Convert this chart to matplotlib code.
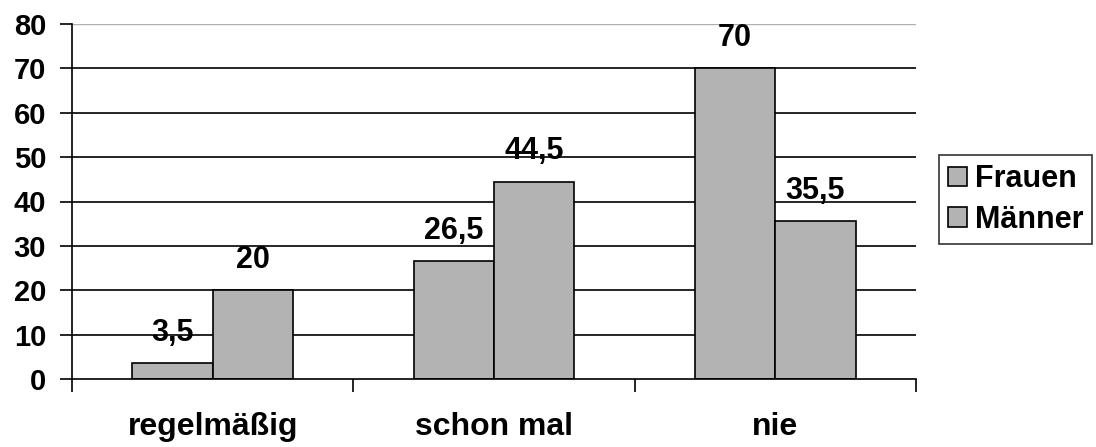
import matplotlib
matplotlib.use("Agg")
import matplotlib.pyplot as plt
import numpy as np

categories = ["regelmäßig", "schon mal", "nie"]
frauen = [3.5, 26.5, 70]
maenner = [20, 44.5, 35.5]
series_names = ["Frauen", "Männer"]
yticks = [0, 10, 20, 30, 40, 50, 60, 70, 80]

plt.rcParams["font.family"] = ["Liberation Sans", "DejaVu Sans"]
plt.rcParams["font.weight"] = "bold"

fig = plt.figure(figsize=(10.96, 4.47), dpi=100)
ax = fig.add_axes([72 / 1096, 1 - 379 / 447, (916 - 72) / 1096, (379 - 24) / 447])

x = np.arange(len(categories))
w = 0.285
bar_color = "#b3b3b3"
b1 = ax.bar(x - w / 2, frauen, w, color=bar_color, edgecolor="black", linewidth=1.2, zorder=3, label=series_names[0])
b2 = ax.bar(x + w / 2, maenner, w, color=bar_color, edgecolor="black", linewidth=1.2, zorder=3, label=series_names[1])

for bars, vals in ((b1, frauen), (b2, maenner)):
    for rect, v in zip(bars, vals):
        ax.annotate(f"{v:g}".replace(".", ","),
                    (rect.get_x() + rect.get_width() / 2, v),
                    xytext=(0, 16), textcoords="offset points",
                    ha="center", va="baseline", fontsize=22, fontweight="bold", zorder=5)

ax.set_xlim(-0.5, len(categories) - 0.5)
ax.set_ylim(0, 80)
ax.set_yticks(yticks)
ax.set_yticklabels([str(t) for t in yticks], fontsize=21, fontweight="bold")
ax.tick_params(axis="y", length=8.6, width=1.2, pad=10)

for t in yticks[1:-1]:
    ax.axhline(t, color="black", linewidth=1.2, zorder=1)
ax.axhline(80, color="#b0b0b0", linewidth=1.0, zorder=1)

ax.set_xticks(x)
ax.set_xticklabels(categories, fontsize=23, fontweight="bold")
ax.tick_params(axis="x", which="major", length=0, pad=24)
ax.set_xticks(np.arange(-0.5, len(categories)), minor=True)
ax.tick_params(axis="x", which="minor", length=9, width=1.2, direction="out")

for s in ("top", "right"):
    ax.spines[s].set_visible(False)
for s in ("left", "bottom"):
    ax.spines[s].set_linewidth(1.2)
    ax.spines[s].set_zorder(4)

leg = fig.legend(handles=[b1, b2], labels=series_names,
                 loc="upper left", bbox_to_anchor=(939 / 1096, 1 - 155 / 447),
                 prop={"weight": "bold", "size": 22},
                 frameon=True, fancybox=False, shadow=False,
                 handlelength=0.62, handleheight=0.62, handletextpad=0.25,
                 borderpad=0.3, labelspacing=0.35, borderaxespad=0)
leg.get_frame().set_edgecolor("black")
leg.get_frame().set_linewidth(1.2)

fig.savefig("out.png", dpi=100)
